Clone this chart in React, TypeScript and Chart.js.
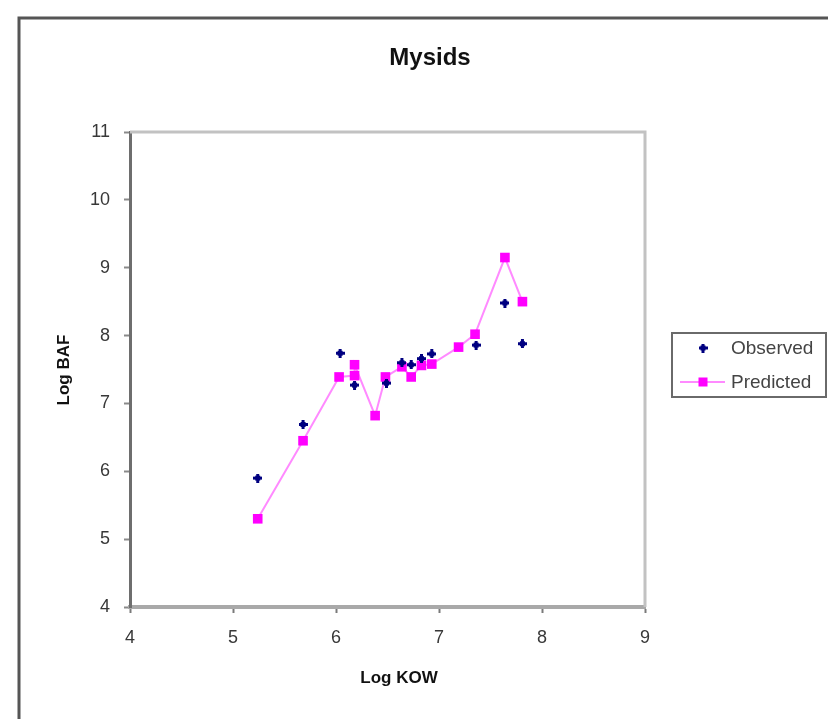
import React, { useEffect, useRef } from "react";
import { Chart, registerables } from "chart.js";

Chart.register(...registerables);

// Log KOW vs Log BAF for mysids
const observedKow = [5.24, 5.68, 6.04, 6.18, 6.49, 6.64, 6.73, 6.83, 6.93, 7.36, 7.64, 7.81];
const observedBaf = [5.9, 6.69, 7.74, 7.27, 7.3, 7.6, 7.57, 7.66, 7.73, 7.86, 8.48, 7.88];

const predictedKow = [5.24, 5.68, 6.03, 6.18, 6.18, 6.38, 6.48, 6.64, 6.73, 6.83, 6.93, 7.19, 7.35, 7.64, 7.81];
const predictedBaf = [5.3, 6.45, 7.39, 7.41, 7.57, 6.82, 7.39, 7.54, 7.39, 7.56, 7.58, 7.83, 8.02, 9.15, 8.5];

const xTicks = [4, 5, 6, 7, 8, 9];
const yTicks = [4, 5, 6, 7, 8, 9, 10, 11];

const chartTitle = "Mysids";
const xTitle = "Log KOW";
const yTitle = "Log BAF";
const seriesNames = ["Observed", "Predicted"];

const FONT = "'Liberation Sans', Arial, sans-serif";
const NAVY = "#000080";
const MAGENTA = "#ff00ff";
const LINE = "rgba(255, 60, 255, 0.6)";

function makePlus(): HTMLCanvasElement {
  const c = document.createElement("canvas");
  c.width = 9;
  c.height = 9;
  const g = c.getContext("2d")!;
  g.fillStyle = NAVY;
  g.fillRect(3, 0, 3, 9);
  g.fillRect(0, 3, 9, 3);
  g.fillRect(2, 2, 5, 5);
  return c;
}

export default function App() {
  const ref = useRef<HTMLCanvasElement | null>(null);

  useEffect(() => {
    if (!ref.current) return;
    const plus = makePlus();

    const decor = {
      id: "decor",
      beforeDatasetsDraw(chart: any) {
        const { ctx, chartArea: a } = chart;
        ctx.save();
        // light frame on top and right of the plot area
        ctx.strokeStyle = "#c2c2c2";
        ctx.lineWidth = 3;
        ctx.beginPath();
        ctx.moveTo(a.left, a.top);
        ctx.lineTo(a.right, a.top);
        ctx.lineTo(a.right, a.bottom);
        ctx.stroke();
        ctx.restore();
      },
      afterDraw(chart: any) {
        const { ctx } = chart;
        ctx.save();
        // outer chart border (left and top edges)
        ctx.strokeStyle = "#555555";
        ctx.lineWidth = 3;
        ctx.beginPath();
        ctx.moveTo(19, 719);
        ctx.lineTo(19, 18);
        ctx.lineTo(828, 18);
        ctx.stroke();

        // title
        ctx.fillStyle = "#111111";
        ctx.textAlign = "center";
        ctx.textBaseline = "middle";
        ctx.font = `bold 24px ${FONT}`;
        ctx.fillText(chartTitle, 430, 58);

        // axis titles
        ctx.font = `bold 17px ${FONT}`;
        ctx.fillText(xTitle, 399, 678);
        ctx.save();
        ctx.translate(64, 370);
        ctx.rotate(-Math.PI / 2);
        ctx.fillText(yTitle, 0, 0);
        ctx.restore();

        // legend
        ctx.strokeStyle = "#6a6a6a";
        ctx.lineWidth = 2;
        ctx.strokeRect(672, 333, 154, 64);
        ctx.drawImage(plus, 703 - 4.5, 348 - 4.5);
        ctx.strokeStyle = LINE;
        ctx.lineWidth = 2;
        ctx.beginPath();
        ctx.moveTo(680, 382);
        ctx.lineTo(725, 382);
        ctx.stroke();
        ctx.fillStyle = MAGENTA;
        ctx.fillRect(703 - 4.5, 382 - 4.5, 9, 9);
        ctx.fillStyle = "#444444";
        ctx.textAlign = "left";
        ctx.font = `19px ${FONT}`;
        ctx.fillText(seriesNames[0], 731, 349);
        ctx.fillText(seriesNames[1], 731, 383);
        ctx.restore();
      },
    };

    const chart = new Chart(ref.current, {
      type: "scatter",
      data: {
        datasets: [
          {
            label: seriesNames[0],
            data: observedKow.map((x, i) => ({ x, y: observedBaf[i] })),
            pointStyle: plus,
            pointRadius: 5,
            showLine: false,
          },
          {
            label: seriesNames[1],
            data: predictedKow.map((x, i) => ({ x, y: predictedBaf[i] })),
            pointStyle: "rect",
            pointRadius: 6.8,
            pointBackgroundColor: MAGENTA,
            pointBorderColor: MAGENTA,
            pointBorderWidth: 0,
            borderColor: LINE,
            borderWidth: 2,
            showLine: true,
          },
        ],
      },
      options: {
        responsive: false,
        animation: false,
        devicePixelRatio: 1,
        layout: { padding: { top: 132, right: 183, bottom: 0, left: 0 } },
        plugins: {
          legend: { display: false },
          title: { display: false },
          tooltip: { enabled: false },
        },
        scales: {
          x: {
            type: "linear",
            min: xTicks[0],
            max: xTicks[xTicks.length - 1],
            afterFit: (s: any) => {
              s.height = 112;
            },
            afterBuildTicks: (s: any) => {
              s.ticks = xTicks.map((v) => ({ value: v }));
            },
            ticks: {
              padding: 14,
              color: "#383838",
              font: { family: FONT, size: 18 },
            },
            grid: {
              drawOnChartArea: false,
              drawTicks: true,
              tickLength: 6,
              tickWidth: 2,
              tickColor: "#7a7a7a",
            },
            border: { display: true, color: "#a9a9a9", width: 4 },
          },
          y: {
            type: "linear",
            min: yTicks[0],
            max: yTicks[yTicks.length - 1],
            afterFit: (s: any) => {
              s.width = 130;
            },
            afterBuildTicks: (s: any) => {
              s.ticks = yTicks.map((v) => ({ value: v }));
            },
            ticks: {
              padding: 14,
              color: "#383838",
              font: { family: FONT, size: 18 },
            },
            grid: {
              drawOnChartArea: false,
              drawTicks: true,
              tickLength: 6,
              tickWidth: 2,
              tickColor: "#8a8a8a",
            },
            border: { display: true, color: "#6e6e6e", width: 3 },
          },
        },
      },
      plugins: [decor],
    });

    return () => chart.destroy();
  }, []);

  return (
    <div style={{ position: "absolute", left: 0, top: 0, width: 828, height: 719, background: "#ffffff" }}>
      <canvas ref={ref} width={828} height={719} style={{ display: "block" }} />
    </div>
  );
}
